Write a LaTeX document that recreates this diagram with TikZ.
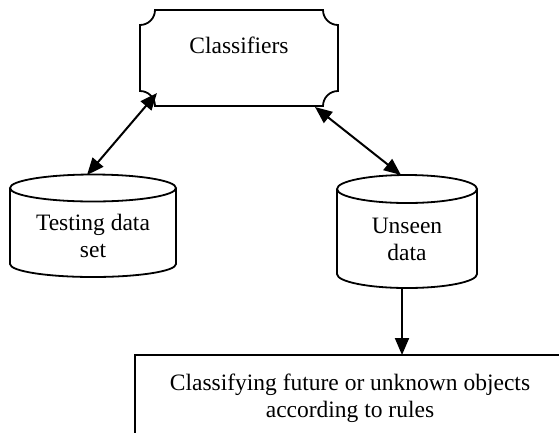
\documentclass[tikz,border=0pt]{standalone}
\usepackage{fontspec}
\setmainfont{Liberation Serif}
\usetikzlibrary{arrows.meta}
\tikzset{
  shapeline/.style={line width=1.8pt, fill=white},
  tip/.tip={Triangle[length=17pt,width=14pt]},
  conn/.style={line width=2pt, tip-tip},
  conn1/.style={line width=2pt, -tip},
  lbl/.style={font=\fontsize{23.5}{27}\selectfont, align=center, inner sep=0pt, anchor=base}
}
\begin{document}
\begin{tikzpicture}[x=1pt,y=-1pt]
\useasboundingbox (0,0) rectangle (559,432);
\begin{scope}
\clip (0,0) rectangle (559,432);
% bottom box
\draw[shapeline] (135,355) rectangle (566,445);
\end{scope}
% classifiers box
\draw[shapeline] (155,10) -- (323,10) arc[start angle=180,end angle=90,radius=15]
  -- (338,91) arc[start angle=270,end angle=180,radius=15]
  -- (155,106) arc[start angle=0,end angle=-90,radius=15]
  -- (140,25) arc[start angle=90,end angle=0,radius=15] -- cycle;
\node[lbl] (cls) at (239,53) {Classifiers};
% testing cylinder
\draw[shapeline] (10,188) -- (10,264) arc[start angle=180,end angle=0,x radius=83,y radius=13] -- (176,188);
\draw[shapeline] (93,188) ellipse[x radius=83,y radius=13.5];
\node[lbl] (test) at (93,257) {Testing data\\set};
% unseen cylinder
\draw[shapeline] (337,189) -- (337,274) arc[start angle=180,end angle=0,x radius=70,y radius=14] -- (477,189);
\draw[shapeline] (407,189) ellipse[x radius=70,y radius=14];
\node[lbl] (uns) at (407,260) {Unseen\\data};
% bottom text
\node[lbl] (fut) at (350,417) {Classifying future or unknown objects\\according to rules};
% connector anchors
\coordinate (clsBL) at (157,93);
\coordinate (clsBR) at (315,107);
\coordinate (testTop) at (87,175);
\coordinate (unsTop) at (401,175);
\coordinate (unsBot) at (402,288);
\coordinate (futTop) at (402,355);
\draw[conn] (testTop) -- (clsBL);
\draw[conn] (clsBR) -- (unsTop);
\draw[conn1] (unsBot) -- (futTop);
\end{tikzpicture}
\end{document}
